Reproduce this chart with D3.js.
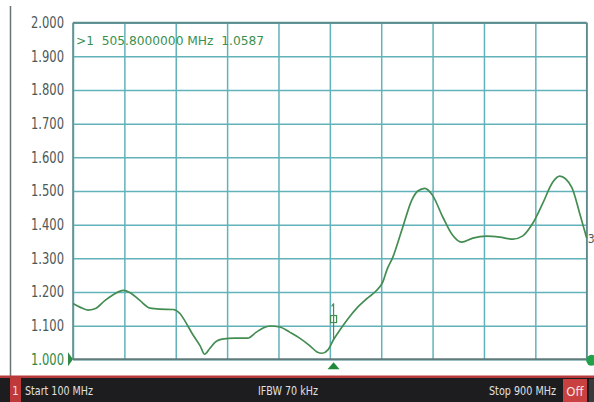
<!DOCTYPE html>
<html>
<head>
<meta charset="utf-8">
<script src="https://cdn.jsdelivr.net/npm/d3@7"></script>
<style>
  html, body { margin: 0; padding: 0; background: #ffffff; }
  svg { display: block; }
</style>
</head>
<body>
<svg id="chart" width="594" height="402"></svg>
<script>
// SWR sweep, 100–900 MHz
const freqMHz = [100, 110.9, 123.3, 134, 150, 165, 178, 189, 204, 220, 235, 256, 266.5, 274, 286, 298, 305, 313, 322, 332, 352, 372, 385, 396, 407, 422, 438, 453, 469, 480, 488, 497, 505.8, 515.6, 528, 542, 557.6, 573, 582.5, 588.7, 598, 613.6, 627.6, 637, 648, 660, 676, 691, 705, 722.6, 744, 764.6, 785, 800, 816, 831.5, 847, 858, 876.7, 889, 900];
const swr = [1.166, 1.155, 1.146, 1.15, 1.175, 1.195, 1.205, 1.198, 1.175, 1.152, 1.149, 1.148, 1.136, 1.115, 1.075, 1.04, 1.015, 1.032, 1.052, 1.06, 1.063, 1.063, 1.08, 1.093, 1.099, 1.096, 1.08, 1.063, 1.04, 1.022, 1.018, 1.028, 1.0587, 1.087, 1.12, 1.152, 1.18, 1.205, 1.23, 1.265, 1.303, 1.393, 1.473, 1.5, 1.508, 1.487, 1.422, 1.369, 1.348, 1.36, 1.366, 1.363, 1.357, 1.366, 1.404, 1.463, 1.526, 1.544, 1.511, 1.434, 1.36];
const yTicks = [1.0, 1.1, 1.2, 1.3, 1.4, 1.5, 1.6, 1.7, 1.8, 1.9, 2.0];
const xTicks = [100, 180, 260, 340, 420, 500, 580, 660, 740, 820, 900];
const markerFreq = 505.8;
const markerValue = 1.0587;
const markerReadout = ">1  505.8000000 MHz  1.0587";
const statusStart = "Start 100 MHz";
const statusMid = "IFBW 70 kHz";
const statusStop = "Stop 900 MHz";

const svg = d3.select("#chart");
const plot = { left: 73, top: 22.7, right: 586.7, bottom: 359.3 };

const x = d3.scaleLinear().domain([100, 900]).range([plot.left, plot.right]);
const y = d3.scaleLinear().domain([1.0, 2.0]).range([plot.bottom, plot.top]);

const gridColor = "#62b2ba";
const traceColor = "#448d52";
const condensed = "'DejaVu Sans Condensed', 'Liberation Sans Narrow', sans-serif";

// outer frame line on the left
svg.append("line")
  .attr("x1", 10.5).attr("x2", 10.5).attr("y1", 6).attr("y2", 378)
  .attr("stroke", "#6a7474").attr("stroke-width", 1.5);

// grid
const gx = svg.append("g")
  .attr("transform", `translate(0,${plot.bottom})`)
  .call(d3.axisBottom(x).tickValues(xTicks).tickSize(-(plot.bottom - plot.top)).tickFormat(""));
gx.select(".domain").remove();
gx.selectAll(".tick line").attr("stroke", gridColor).attr("stroke-width", 1.5);

const gy = svg.append("g")
  .attr("transform", `translate(${plot.left},0)`)
  .call(d3.axisLeft(y).tickValues(yTicks).tickSize(-(plot.right - plot.left)).tickPadding(9)
    .tickFormat(d3.format(".3f")));
gy.select(".domain").remove();
gy.selectAll(".tick line").attr("stroke", gridColor).attr("stroke-width", 1.5);
gy.selectAll(".tick text")
  .attr("fill", d => d === 1.0 ? "#2f8a45" : "#4d5858")
  .attr("font-family", condensed)
  .attr("font-size", 15)
  .attr("textLength", 33)
  .attr("lengthAdjust", "spacingAndGlyphs");

// plot frame
svg.append("line").attr("x1", plot.left).attr("x2", plot.right)
  .attr("y1", plot.top).attr("y2", plot.top).attr("stroke", "#5f8a8e").attr("stroke-width", 2);
svg.append("line").attr("x1", plot.left).attr("x2", plot.right)
  .attr("y1", plot.bottom).attr("y2", plot.bottom).attr("stroke", "#607a7c").attr("stroke-width", 2);
svg.append("line").attr("x1", plot.left).attr("x2", plot.left)
  .attr("y1", plot.top).attr("y2", plot.bottom).attr("stroke", "#5f8a8e").attr("stroke-width", 1.5);
svg.append("line").attr("x1", plot.right).attr("x2", plot.right)
  .attr("y1", plot.top).attr("y2", plot.bottom).attr("stroke", "#5f8a8e").attr("stroke-width", 1.5);

// trace
const data = freqMHz.map((f, i) => ({ f, v: swr[i] }));
svg.append("path")
  .datum(data)
  .attr("fill", "none")
  .attr("stroke", traceColor)
  .attr("stroke-width", 1.7)
  .attr("stroke-linejoin", "round")
  .attr("d", d3.line().x(d => x(d.f)).y(d => y(d.v)).curve(d3.curveMonotoneX));

// marker 1 flag on the trace
const mx = x(markerFreq), my = y(markerValue);
const mk = svg.append("g").attr("stroke", traceColor).attr("fill", "none").attr("stroke-width", 1.2);
mk.append("line").attr("x1", mx).attr("x2", mx).attr("y1", my - 36).attr("y2", my);
mk.append("line").attr("x1", mx - 2).attr("x2", mx).attr("y1", my - 33).attr("y2", my - 36);
mk.append("rect").attr("x", mx - 3).attr("y", my - 24).attr("width", 6).attr("height", 7);

// marker readout
svg.append("text")
  .attr("x", 76).attr("y", 45)
  .attr("fill", "#3a9150")
  .attr("font-family", condensed)
  .attr("font-size", 13)
  .attr("textLength", 188)
  .attr("lengthAdjust", "spacingAndGlyphs")
  .attr("xml:space", "preserve")
  .text(markerReadout);

// trace end label
svg.append("text")
  .attr("x", plot.right + 1).attr("y", y(swr[swr.length - 1]) + 5)
  .attr("fill", "#4d5a5a").attr("font-family", condensed).attr("font-size", 12)
  .text("3");

// reference level marker (left), stimulus marker (bottom), right end marker
svg.append("path")
  .attr("d", `M${plot.left - 5},${y(1.0) - 7} L${plot.left},${y(1.0)} L${plot.left - 5},${y(1.0) + 7} Z`)
  .attr("fill", "#2f8a45");
svg.append("path")
  .attr("d", `M${mx - 6},${plot.bottom + 10} L${mx},${plot.bottom + 3} L${mx + 6},${plot.bottom + 10} Z`)
  .attr("fill", "#1f8a3a");
svg.append("circle")
  .attr("cx", plot.right + 5).attr("cy", plot.bottom + 1).attr("r", 5.5)
  .attr("fill", "#22a04a");

// status bar
svg.append("rect").attr("x", 0).attr("y", 375.5).attr("width", 594).attr("height", 2.5).attr("fill", "#b73a3a");
svg.append("rect").attr("x", 0).attr("y", 378).attr("width", 594).attr("height", 24).attr("fill", "#1d1d1f");
svg.append("rect").attr("x", 10).attr("y", 378).attr("width", 11).attr("height", 24).attr("fill", "#c0393a");
svg.append("text").attr("x", 15.5).attr("y", 395).attr("text-anchor", "middle")
  .attr("fill", "#f2dede").attr("font-family", condensed).attr("font-size", 12).text("1");

const statusText = svg.append("g")
  .attr("fill", "#e0e0e0").attr("font-family", condensed).attr("font-size", 12.5);
statusText.append("text").attr("x", 25).attr("y", 395)
  .attr("textLength", 68).attr("lengthAdjust", "spacingAndGlyphs").text(statusStart);
statusText.append("text").attr("x", 258).attr("y", 395)
  .attr("textLength", 60).attr("lengthAdjust", "spacingAndGlyphs").text(statusMid);
statusText.append("text").attr("x", 489).attr("y", 395)
  .attr("textLength", 67).attr("lengthAdjust", "spacingAndGlyphs").text(statusStop);

svg.append("rect").attr("x", 563).attr("y", 379).attr("width", 24).attr("height", 23).attr("fill", "#c8403f");
svg.append("text").attr("x", 575).attr("y", 396).attr("text-anchor", "middle")
  .attr("fill", "#f4e4e4").attr("font-family", condensed).attr("font-size", 13).text("Off");
svg.append("rect").attr("x", 589).attr("y", 379).attr("width", 5).attr("height", 23).attr("fill", "#3a3a3c");
</script>
</body>
</html>
